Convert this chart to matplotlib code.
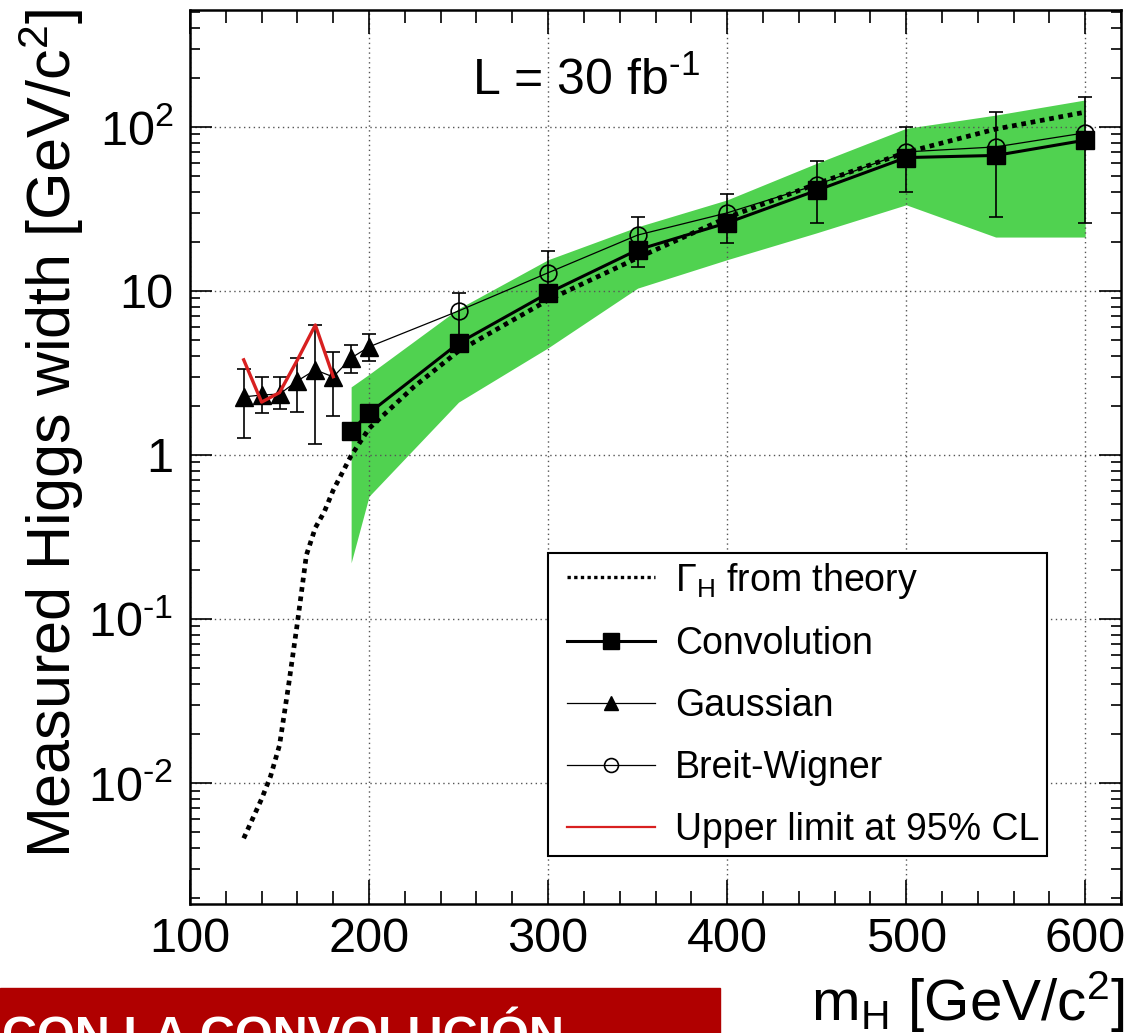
import matplotlib
matplotlib.use('Agg')
import matplotlib.pyplot as plt
from matplotlib.lines import Line2D
from matplotlib.legend_handler import HandlerLine2D
from matplotlib.ticker import MultipleLocator, LogLocator, FixedLocator, FixedFormatter, NullFormatter

plt.rcParams['font.family'] = ['Liberation Sans', 'DejaVu Sans']
plt.rcParams['mathtext.fontset'] = 'custom'
plt.rcParams['mathtext.rm'] = 'Liberation Sans'
plt.rcParams['mathtext.it'] = 'Liberation Sans:italic'
plt.rcParams['mathtext.bf'] = 'Liberation Sans:bold'

# Higgs width vs mass, 30 fb^-1
theory_mass = [130, 140, 145, 150, 155, 160, 165, 170, 175, 180, 190, 200,
               225, 250, 300, 350, 400, 450, 500, 550, 600]
theory_w = [0.0046, 0.0080, 0.011, 0.017, 0.039, 0.095, 0.245, 0.36, 0.45, 0.61,
            0.99, 1.45, 2.6, 4.3, 8.8, 15.9, 28, 45, 70, 97, 123]

band_mass = [190, 200, 250, 300, 350, 400, 450, 500, 550, 600]
band_hi = [2.6, 3.1, 7.8, 15.5, 24.6, 35.9, 60, 98, 118, 146]
band_lo = [0.22, 0.56, 2.1, 4.5, 10.4, 15.5, 22.6, 33.5, 21.3, 21.3]

conv_mass = [190, 200, 250, 300, 350, 400, 450, 500, 550, 600]
conv_w = [1.4, 1.8, 4.8, 9.7, 17.8, 26, 41, 65, 67, 83]

gauss_mass = [130, 140, 150, 160, 170, 180, 190, 200]
gauss_w = [2.26, 2.32, 2.35, 2.83, 3.3, 2.99, 3.9, 4.56]
gauss_hi = [3.35, 2.99, 2.99, 3.9, 6.2, 4.25, 4.68, 5.47]
gauss_lo = [1.27, 1.80, 1.91, 1.83, 1.17, 1.73, 3.16, 3.74]

bw_mass = [250, 300, 350, 400, 450, 500, 550, 600]
bw_w = [7.55, 12.9, 21.9, 29.9, 44.3, 70.4, 75.5, 92]
bw_hi = [9.7, 17.5, 28.3, 39, 62, 100, 123, 152]
bw_lo = [5.3, 10, 14, 19.6, 26, 40, 28.3, 26]

limit_mass = [130, 140, 150, 160, 170, 180]
limit_w = [3.8, 2.1, 2.4, 3.8, 6.2, 3.0]

y_ticks = [1e-2, 1e-1, 1, 10, 100]
y_ticklabels = ['10$^{\\text{-}2}$', '10$^{\\text{-}1}$', '1', '10', '10$^{2}$']
x_ticks = [100, 200, 300, 400, 500, 600]

W, H = 1132, 1033
fig = plt.figure(figsize=(W / 100, H / 100), dpi=100)
ax = fig.add_axes([190 / W, 1 - 904 / H, 931 / W, 894 / H])

green = '#50d250'
red = '#d82020'
ax.fill_between(band_mass, band_lo, band_hi, color=green, lw=0, zorder=1)

ax.plot(theory_mass, theory_w, color='black', lw=3.4, ls=(0, (1, 1)), zorder=3)

# Gaussian fits (low mass) with errors
g_err = [[w - lo for w, lo in zip(gauss_w, gauss_lo)],
         [hi - w for w, hi in zip(gauss_w, gauss_hi)]]
ax.errorbar(gauss_mass, gauss_w, yerr=g_err, fmt='none', ecolor='black',
            elinewidth=1.2, capsize=5, capthick=1.2, zorder=4)
ax.plot(gauss_mass, gauss_w, color='black', lw=0.9, marker='^', ms=13, zorder=5)

# Breit-Wigner fits, joined to the last Gaussian point
b_err = [[w - lo for w, lo in zip(bw_w, bw_lo)],
         [hi - w for w, hi in zip(bw_w, bw_hi)]]
ax.errorbar(bw_mass, bw_w, yerr=b_err, fmt='none', ecolor='black',
            elinewidth=1.2, capsize=5, capthick=1.2, zorder=4)
ax.plot([gauss_mass[-1]] + bw_mass, [gauss_w[-1]] + bw_w, color='black', lw=0.9, zorder=5)
ax.plot(bw_mass, bw_w, ls='none', marker='o', ms=12, mfc='none', mec='black', mew=1.2, zorder=5)

ax.plot(conv_mass, conv_w, color='black', lw=2.2, marker='s', ms=13, zorder=6)

ax.plot(limit_mass, limit_w, color=red, lw=2.4, zorder=7)

ax.set_yscale('log')
ax.set_xlim(100, 620)
ax.set_ylim(0.00183, 516)

ax.xaxis.set_major_locator(FixedLocator(x_ticks))
ax.xaxis.set_minor_locator(MultipleLocator(20))
ax.yaxis.set_major_locator(FixedLocator(y_ticks))
ax.yaxis.set_major_formatter(FixedFormatter(y_ticklabels))
ax.yaxis.set_minor_locator(LogLocator(base=10, subs=range(2, 10), numticks=20))
ax.yaxis.set_minor_formatter(NullFormatter())

ax.tick_params(which='both', direction='in', top=True, right=True, width=1.2, labelsize=35)
ax.tick_params(axis='x', which='major', length=17, pad=9)
ax.tick_params(axis='x', which='minor', length=9.5)
ax.tick_params(axis='y', which='major', length=16, pad=12)
ax.tick_params(axis='y', which='minor', length=7.5)
for s in ax.spines.values():
    s.set_linewidth(1.8)

ax.set_axisbelow('line')
ax.grid(True, which='major', color='#555555', lw=1.0, ls=(0, (1, 2.5)))

ax.set_ylabel('Measured Higgs width [GeV/c$^{2}$]', fontsize=44)
ax.yaxis.set_label_coords(-0.112, 0.526)

fig.text(1125 / W, (H - 1021) / H, 'm$_{\\mathrm{H}}$ [GeV/c$^{2}$]', fontsize=42,
         ha='right', va='baseline')

ax.text(0.303, 0.905, 'L = 30 fb$^{\\text{-}1}$', transform=ax.transAxes, fontsize=36,
        va='baseline', ha='left')

handles = [
    Line2D([], [], color='black', lw=2.4, ls=(0, (1, 1))),
    Line2D([], [], color='black', lw=2.2, marker='s', ms=11),
    Line2D([], [], color='black', lw=0.9, marker='^', ms=10),
    Line2D([], [], color='black', lw=0.9, marker='o', ms=10, mfc='none', mew=1.2),
    Line2D([], [], color=red, lw=1.6),
]
labels = ['$\\Gamma_{\\mathrm{H}}$ from theory', 'Convolution', 'Gaussian',
          'Breit-Wigner', 'Upper limit at 95% CL']
leg = ax.legend(handles, labels, loc='upper left', bbox_to_anchor=(0.3845, 0.3926),
                borderaxespad=0, fontsize=27, handlelength=2.65, handletextpad=0.53,
                labelspacing=0.69, borderpad=0.2, fancybox=False, framealpha=1,
                edgecolor='black', handler_map={Line2D: HandlerLine2D(xpad=0.31)})
leg.get_frame().set_linewidth(1.5)

# banner along the bottom edge
fig.patches.append(plt.Rectangle((0, 0), 720 / W, 45 / H, transform=fig.transFigure,
                                 color='#b00000', zorder=0))
fig.text(2 / W, (H - 1050) / H, 'CON LA CONVOLUCIÓN', fontsize=35, fontweight='bold',
         color='white', ha='left', va='baseline')

fig.savefig('out.png', dpi=100)
